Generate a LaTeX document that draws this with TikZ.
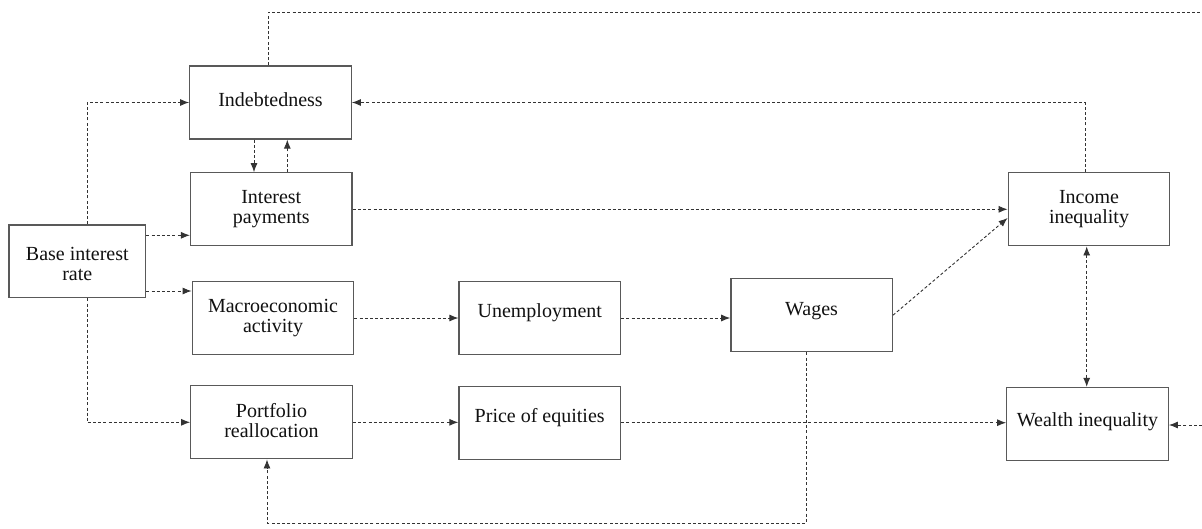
\documentclass[tikz,border=0pt]{standalone}
\usepackage{fontspec}
\setmainfont{Liberation Serif}
\usetikzlibrary{arrows.meta}
\definecolor{boxgray}{HTML}{595959}
\definecolor{linegray}{HTML}{333333}
\definecolor{txtcol}{HTML}{111111}
\begin{document}
\begin{tikzpicture}[x=1pt,y=-1pt,
  box/.style={draw=boxgray, line width=1.3pt, rectangle, inner sep=0pt,
              minimum width=161.5pt, minimum height=73pt},
  txt/.style={font=\fontsize{20pt}{20pt}\selectfont, text=txtcol, align=center, inner sep=0pt},
  dl/.style={draw=linegray, line width=0.9pt, dash pattern=on 3pt off 2.2pt},
  arr/.style={dl, -{Latex[length=9pt,width=7pt]}},
  darr/.style={dl, {Latex[length=9pt,width=7pt]}-{Latex[length=9pt,width=7pt]}}
]
\fill[white] (0,0) rectangle (1202,528);
\useasboundingbox (0,0) rectangle (1202,528);

% boxes
\node[box] (ind) at (270.5,102.5) {};
\node[box] (ip) at (271.3,209.3) {};
\node[box, minimum width=136.7pt, minimum height=72.7pt] (base) at (77.3,261.3) {};
\node[box] (macro) at (273,318) {};
\node[box] (unemp) at (539.8,318) {};
\node[box] (wages) at (811.6,315.2) {};
\node[box] (port) at (271.5,422.3) {};
\node[box] (price) at (539.7,422.7) {};
\node[box] (income) at (1089,209.3) {};
\node[box] (wealth) at (1087.5,424) {};

% texts
\node[txt] (indT) at ([yshift=3pt]ind.center) {Indebtedness};
\node[txt] (ipT) at (ip.center) {Interest\\payments};
\node[txt] (baseT) at ([yshift=-2.5pt]base.center) {Base interest\\rate};
\node[txt] (macroT) at (macro.center) {Macroeconomic\\activity};
\node[txt] (unempT) at ([yshift=5pt]unemp.center) {Unemployment};
\node[txt] (wagesT) at ([yshift=4.5pt]wages.center) {Wages};
\node[txt] (portT) at ([yshift=2pt]port.center) {Portfolio\\reallocation};
\node[txt] (priceT) at ([yshift=4.7pt]price.center) {Price of equities};
\node[txt] (incomeT) at (income.center) {Income\\inequality};
\node[txt] (wealthT) at ([yshift=2pt]wealth.center) {Wealth inequality};

% free ends
\coordinate (topright) at (1202,12);
\coordinate (rightin) at (1202,425);
\coordinate (lowrow) at (0,523);

% helper points on box sides
\coordinate (baseUp) at ([xshift=9.7pt]base.north);
\coordinate (baseDown) at ([xshift=9.7pt]base.south);
\coordinate (indDownA) at ([xshift=-16.5pt]ind.south);
\coordinate (ipUpA) at ([xshift=16pt]ip.north);
\coordinate (incUp) at ([xshift=-4pt]income.north);
\coordinate (incDown) at ([xshift=-2.3pt]income.south);
\coordinate (wagesDown) at ([xshift=-5.6pt]wages.south);
\coordinate (portUp) at ([xshift=-4.5pt]port.south);
\coordinate (indTop) at ([xshift=-2.5pt]ind.north);
\coordinate (baseE1) at ([yshift=26pt]base.east);
\coordinate (baseE2) at ([yshift=-29.7pt]base.east);

% connectors
\draw[arr] (baseUp) |- (ind.west);
\draw[arr] (baseE1) -- (baseE1 -| ip.west);
\draw[arr] (baseE2) -- (baseE2 -| macro.west);
\draw[arr] (baseDown) |- (port.west);
\draw[arr] (indDownA) -- (indDownA |- ip.north);
\draw[arr] (ipUpA) -- (ipUpA |- ind.south);
\draw[arr] (ip.east) -- (income.west);
\draw[arr] (wages.east) -- ([yshift=-8.7pt]income.west);
\draw[arr] (incUp) |- (ind.east);
\draw[darr] (incDown) -- (incDown |- wealth.north);
\draw[arr] (macro.east) -- (macro.east -| unemp.west);
\draw[arr] (unemp.east) -- (unemp.east -| wages.west);
\draw[arr] (port.east) -- (port.east -| price.west);
\draw[arr] (price.east) -- (price.east -| wealth.west);
\draw[arr] (wagesDown) -- (wagesDown |- lowrow) -| (portUp);
\draw[dl] (indTop) |- (topright);
\draw[arr] (rightin) -- (rightin -| wealth.east);
\end{tikzpicture}
\end{document}
